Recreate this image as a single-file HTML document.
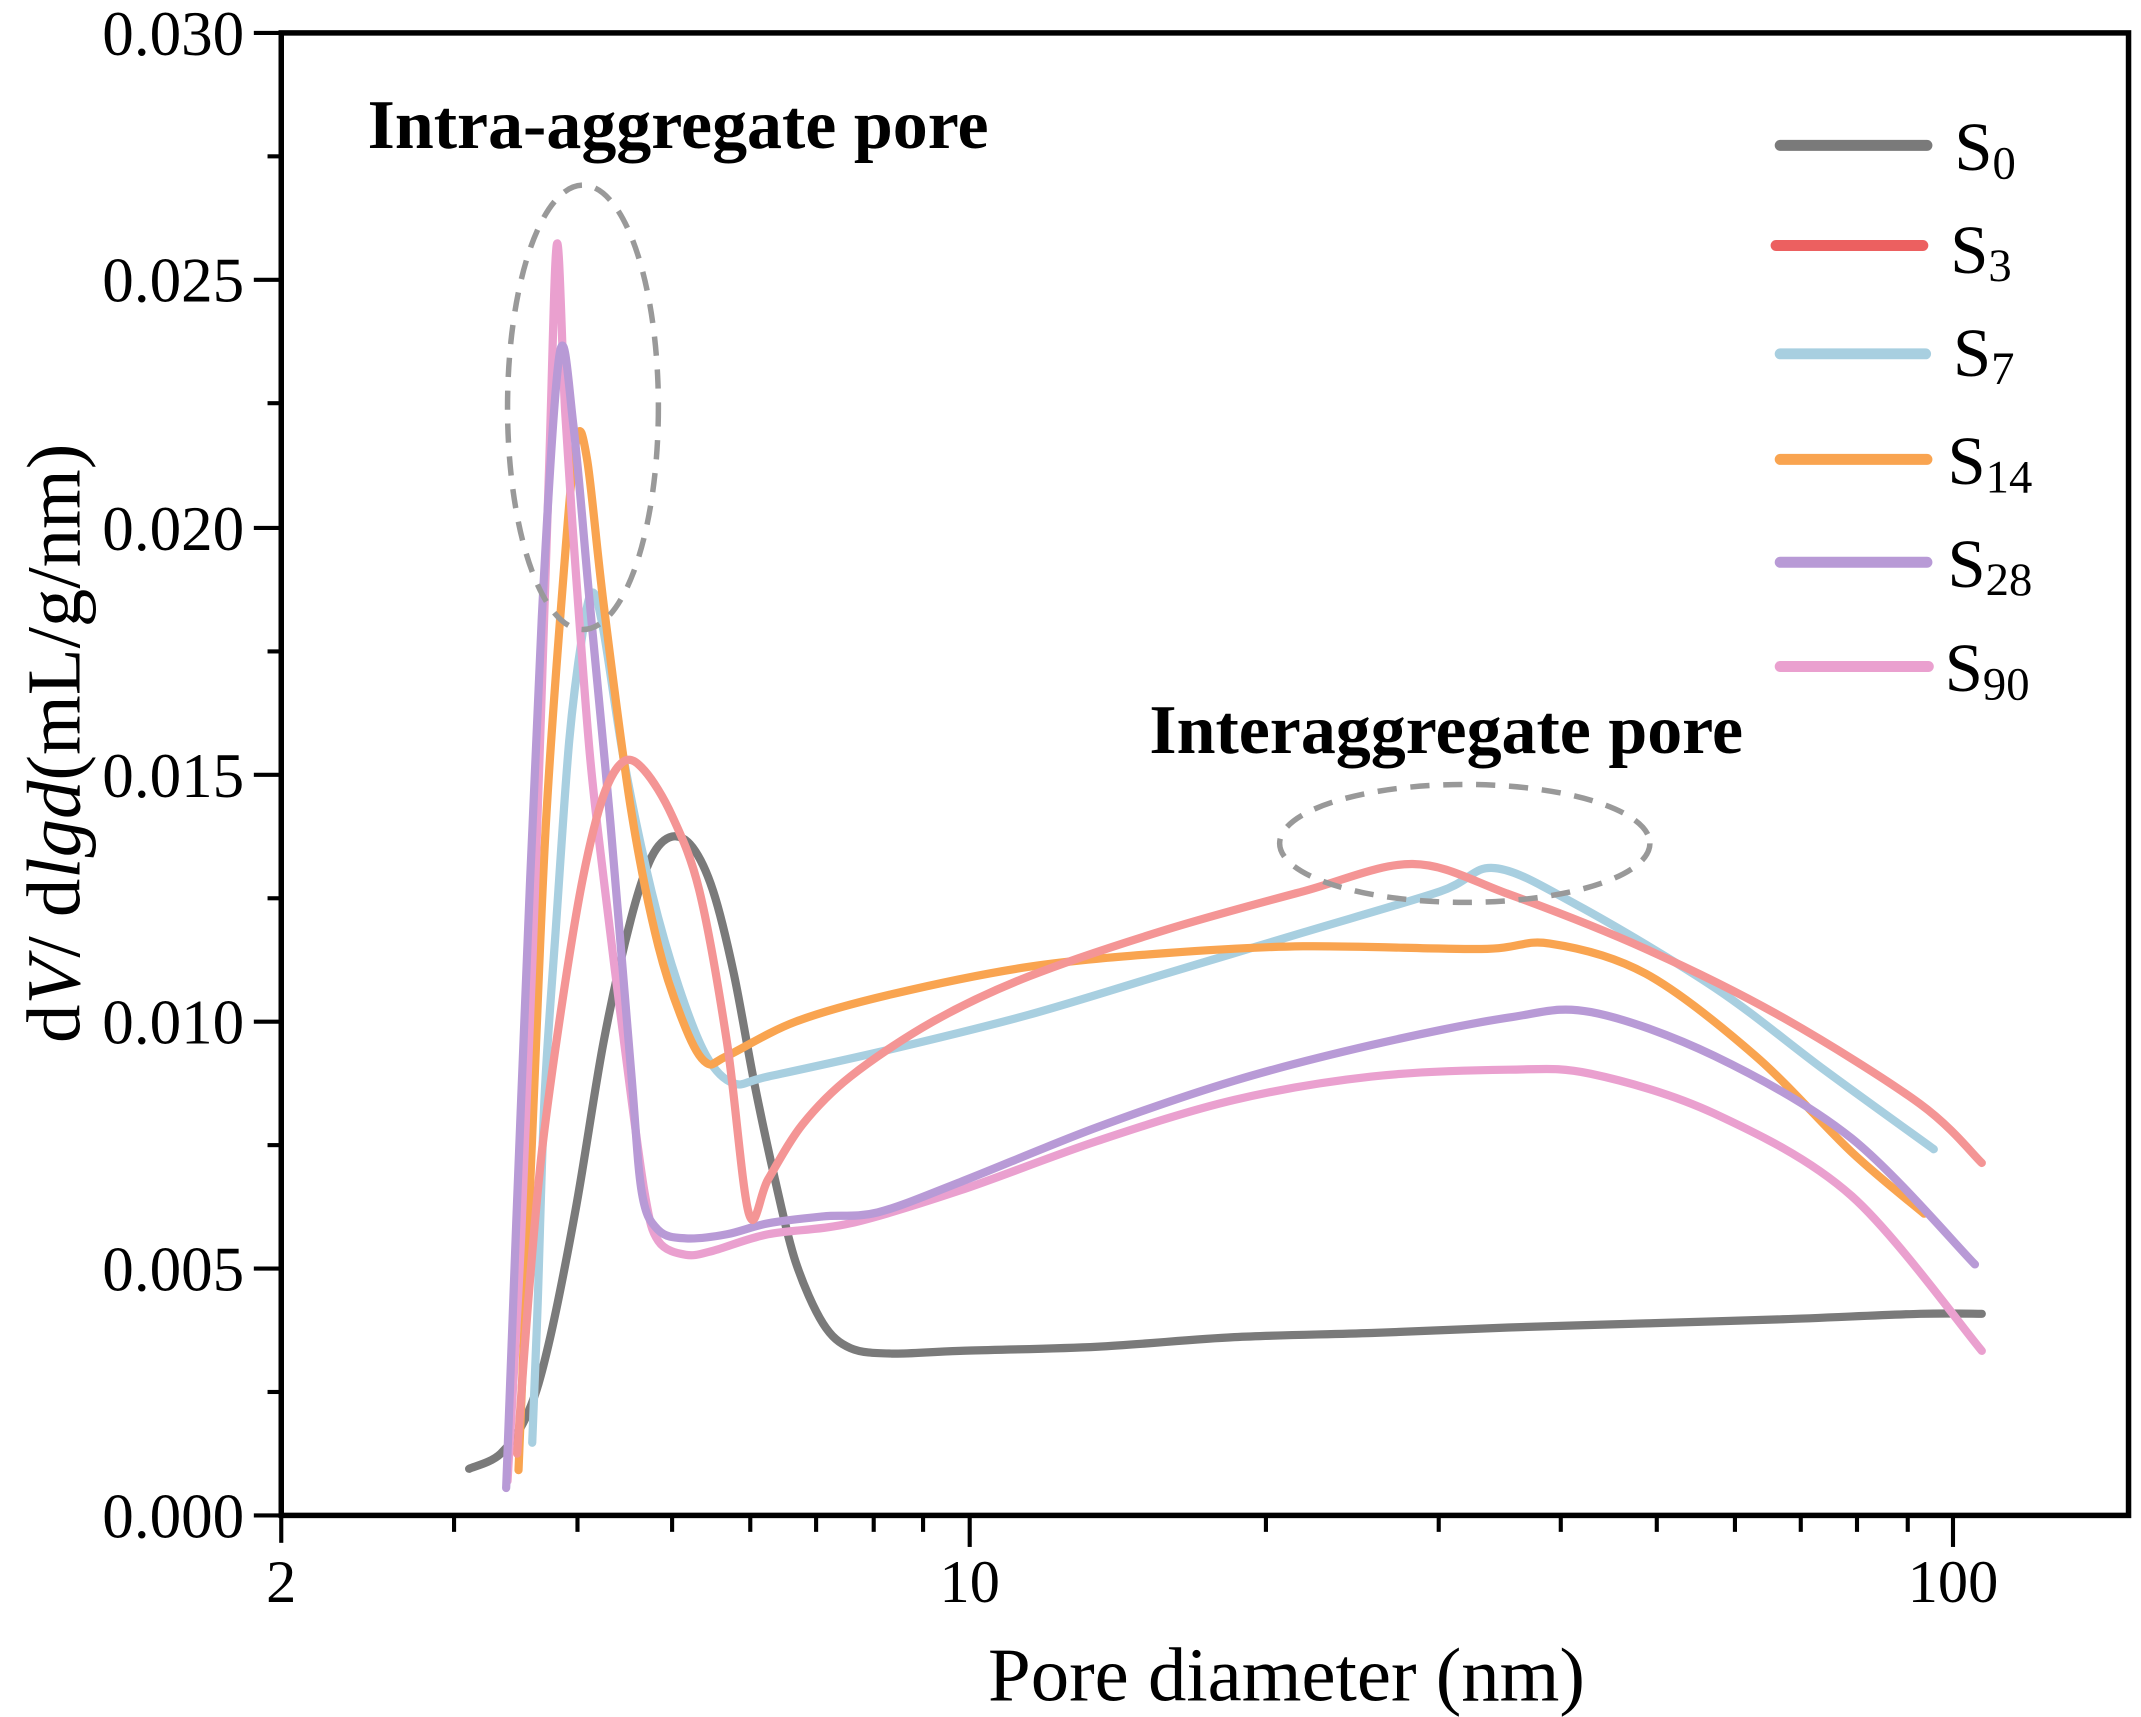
<!DOCTYPE html>
<html><head><meta charset="utf-8"><style>html,body{margin:0;padding:0;background:#fff}svg{display:block}</style></head>
<body>
<svg id="c" width="2141" height="1717" viewBox="0 0 1561 1252" xmlns="http://www.w3.org/2000/svg" font-family="'Liberation Serif', serif">
<rect width="1561" height="1252" fill="#fff"/>
<g id="curves" fill="none" stroke-linejoin="round" stroke-linecap="round" stroke-width="6">
<polyline stroke="#7a7a7a" points="342,1071 365,1060 385,1030 400,980 420,880 440,760 460,670 475,625 490,610 505,618 520,650 535,710 550,790 565,860 580,920 600,965 620,983 650,987 700,985 800,982 900,975 1000,972 1100,968 1200,965 1300,962 1400,958 1445,958"/>
<polyline stroke="#a8cfe0" points="388,1052 392,950 397,800 405,680 415,540 425,460 432,432 440,460 455,555 475,650 495,720 515,770 535,790 560,785 650,765 750,740 850,710 950,680 1050,650 1090,633 1150,660 1250,720 1330,780 1410,838"/>
<polyline stroke="#f9a450" points="378,1072 383,950 390,780 398,600 410,430 420,322 428,335 440,440 460,590 480,690 500,750 515,775 530,770 580,745 650,725 750,705 850,695 950,690 1080,692 1130,688 1200,710 1280,770 1350,840 1403,885"/>
<polyline stroke="#eaa0cf" points="370,1080 380,900 390,650 400,350 406,178 412,300 420,420 430,550 440,640 455,760 470,870 480,905 500,915 520,912 560,900 620,892 700,868 800,832 900,802 1000,785 1100,780 1160,783 1250,812 1350,872 1445,985"/>
<polyline stroke="#b89ad6" points="369,1085 380,800 395,450 408,258 418,310 430,440 445,600 460,780 468,870 480,897 500,903 530,900 560,892 600,887 640,884 700,862 800,822 900,788 1000,762 1100,742 1160,738 1250,770 1350,830 1440,922"/>
<polyline stroke="#f49595" points="377,1060 385,950 395,840 410,730 425,640 440,580 455,555 470,562 490,595 510,650 530,760 546,885 560,860 585,820 620,785 680,745 750,712 850,678 950,650 1030,630 1100,652 1200,692 1300,742 1400,805 1445,848"/>
</g>
<g fill="none" stroke="#999" stroke-width="4" stroke-dasharray="14,10">
<ellipse cx="425" cy="297" rx="55" ry="162"/>
<ellipse cx="1068" cy="615" rx="135" ry="43"/>
</g>
<g stroke="#000" stroke-width="4" fill="none">
<rect x="205" y="24" width="1347" height="1081"/>
</g>
<g stroke="#000" stroke-width="3">
<line x1="185" y1="24" x2="205" y2="24"/><line x1="185" y1="204" x2="205" y2="204"/><line x1="185" y1="385" x2="205" y2="385"/><line x1="185" y1="565" x2="205" y2="565"/><line x1="185" y1="745" x2="205" y2="745"/><line x1="185" y1="925" x2="205" y2="925"/><line x1="185" y1="1105" x2="205" y2="1105"/>
<line x1="195" y1="114" x2="205" y2="114"/><line x1="195" y1="294" x2="205" y2="294"/><line x1="195" y1="475" x2="205" y2="475"/><line x1="195" y1="655" x2="205" y2="655"/><line x1="195" y1="835" x2="205" y2="835"/><line x1="195" y1="1015" x2="205" y2="1015"/>
<line x1="205" y1="1105" x2="205" y2="1125"/><line x1="707" y1="1105" x2="707" y2="1128"/><line x1="1424" y1="1105" x2="1424" y2="1128"/>
<line x1="331" y1="1105" x2="331" y2="1117"/><line x1="421" y1="1105" x2="421" y2="1117"/><line x1="490" y1="1105" x2="490" y2="1117"/><line x1="547" y1="1105" x2="547" y2="1117"/><line x1="595" y1="1105" x2="595" y2="1117"/><line x1="637" y1="1105" x2="637" y2="1117"/><line x1="673" y1="1105" x2="673" y2="1117"/>
<line x1="923" y1="1105" x2="923" y2="1117"/><line x1="1049" y1="1105" x2="1049" y2="1117"/><line x1="1138" y1="1105" x2="1138" y2="1117"/><line x1="1208" y1="1105" x2="1208" y2="1117"/><line x1="1265" y1="1105" x2="1265" y2="1117"/><line x1="1313" y1="1105" x2="1313" y2="1117"/><line x1="1354" y1="1105" x2="1354" y2="1117"/><line x1="1391" y1="1105" x2="1391" y2="1117"/>
</g>
<g font-size="46" text-anchor="end" fill="#000">
<text x="178" y="40">0.030</text><text x="178" y="220">0.025</text><text x="178" y="401">0.020</text><text x="178" y="581">0.015</text><text x="178" y="761">0.010</text><text x="178" y="941">0.005</text><text x="178" y="1121">0.000</text>
</g>
<g font-size="44" text-anchor="middle">
<text x="205" y="1168">2</text><text x="707" y="1168">10</text><text x="1424" y="1168">100</text>
</g>
<text x="938" y="1240" font-size="56" text-anchor="middle">Pore diameter (nm)</text>
<text transform="translate(58,542) rotate(-90)" font-size="56" text-anchor="middle">d<tspan font-style="italic">V</tspan>/ d<tspan font-style="italic">lgd</tspan>(mL/g/nm)</text>
<text x="268" y="108" font-size="51" font-weight="bold">Intra-aggregate pore</text>
<text x="838" y="549" font-size="51" font-weight="bold">Interaggregate pore</text>
<g stroke-width="8" stroke-linecap="round">
<line x1="1298" y1="106" x2="1405" y2="106" stroke="#7a7a7a"/>
<line x1="1295" y1="179" x2="1402" y2="179" stroke="#ec6060"/>
<line x1="1298" y1="258" x2="1404" y2="258" stroke="#a8cfe0"/>
<line x1="1298" y1="335" x2="1405" y2="335" stroke="#f9a450"/>
<line x1="1298" y1="410" x2="1405" y2="410" stroke="#b89ad6"/>
<line x1="1298" y1="486" x2="1406" y2="486" stroke="#eaa0cf"/>
</g>
<g font-size="50">
<text x="1425" y="124">S<tspan font-size="34" dy="6">0</tspan></text>
<text x="1422" y="199">S<tspan font-size="34" dy="6">3</tspan></text>
<text x="1424" y="274">S<tspan font-size="34" dy="6">7</tspan></text>
<text x="1420" y="353">S<tspan font-size="34" dy="6">14</tspan></text>
<text x="1420" y="428">S<tspan font-size="34" dy="6">28</tspan></text>
<text x="1418" y="504">S<tspan font-size="34" dy="6">90</tspan></text>
</g>
</svg>
<script>
(function(){
var ns="http://www.w3.org/2000/svg";
var g=document.getElementById("curves");
var pls=g.querySelectorAll("polyline");
for(var k=0;k<pls.length;k++){
var pl=pls[k];
var p=pl.getAttribute("points").trim().split(/\s+/).map(function(s){return s.split(",").map(Number);});
var d="M"+p[0][0]+","+p[0][1];
for(var i=0;i<p.length-1;i++){
var p0=p[i-1]||p[i],p1=p[i],p2=p[i+1],p3=p[i+2]||p2;
var t=0.16;
var c1=[p1[0]+(p2[0]-p0[0])*t,p1[1]+(p2[1]-p0[1])*t];
var c2=[p2[0]-(p3[0]-p1[0])*t,p2[1]-(p3[1]-p1[1])*t];
d+=" C"+c1[0].toFixed(1)+","+c1[1].toFixed(1)+" "+c2[0].toFixed(1)+","+c2[1].toFixed(1)+" "+p2[0]+","+p2[1];
}
var path=document.createElementNS(ns,"path");
path.setAttribute("d",d);
path.setAttribute("stroke",pl.getAttribute("stroke"));
g.replaceChild(path,pl);
}
})();
</script>
</body></html>
